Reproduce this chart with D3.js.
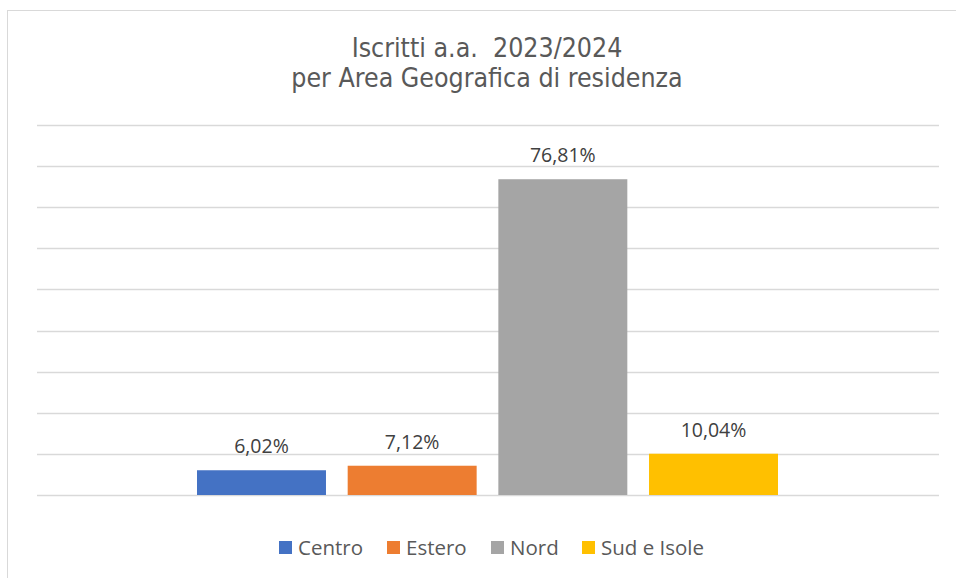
<!DOCTYPE html>
<html>
<head>
<meta charset="utf-8">
<script src="https://cdn.jsdelivr.net/npm/d3@7"></script>
<style>
  body { margin: 0; background: #fff; }
  text { font-family: "Open Sans", "Liberation Sans", sans-serif; fill: #595959; }
</style>
</head>
<body>
<div id="chart"></div>
<script>
// data
const series = ["Centro", "Estero", "Nord", "Sud e Isole"];
const values = [6.02, 7.12, 76.81, 10.04];
const colors = ["#4472c4", "#ed7d31", "#a5a5a5", "#ffc000"];
const yTicks = [0, 10, 20, 30, 40, 50, 60, 70, 80, 90];
const titleLines = ["Iscritti a.a.  2023/2024", "per Area Geografica di residenza"];

const width = 956, height = 578;
const plot = { left: 37, right: 939, top: 125, bottom: 495 };

const svg = d3.select("#chart").append("svg")
    .attr("width", width)
    .attr("height", height);

// chart frame
svg.append("rect")
    .attr("x", 7.5).attr("y", 10.5)
    .attr("width", 1000).attr("height", 1000)
    .attr("fill", "#fff")
    .attr("stroke", "#d9d9d9")
    .attr("stroke-width", 1);

const y = d3.scaleLinear()
    .domain([0, 90])
    .range([plot.bottom, plot.top]);

// single category, four series clustered in the middle
const x = d3.scaleBand()
    .domain(series)
    .range([197, 778])
    .paddingInner(0.144)
    .paddingOuter(0);

// gridlines
svg.append("g")
  .selectAll("line")
  .data(yTicks)
  .enter()
  .append("line")
    .attr("x1", plot.left)
    .attr("x2", plot.right)
    .attr("y1", d => Math.round(y(d)) + 0.5)
    .attr("y2", d => Math.round(y(d)) + 0.5)
    .attr("stroke", "#d9d9d9")
    .attr("stroke-width", 1.3);

// bars
svg.append("g")
  .selectAll("rect")
  .data(series)
  .enter()
  .append("rect")
    .attr("x", d => x(d))
    .attr("y", (d, i) => y(values[i]))
    .attr("width", x.bandwidth())
    .attr("height", (d, i) => y(0) - y(values[i]))
    .attr("fill", (d, i) => colors[i]);

// value labels
svg.append("g")
  .selectAll("text")
  .data(series)
  .enter()
  .append("text")
    .attr("x", d => x(d) + x.bandwidth() / 2)
    .attr("y", (d, i) => y(values[i]) - 17)
    .attr("text-anchor", "middle")
    .attr("font-size", 19.5)
    .style("fill", "#404040")
    .text((d, i) => values[i].toFixed(2).replace(".", ",") + "%");

// title
svg.append("g")
  .selectAll("text")
  .data(titleLines)
  .enter()
  .append("text")
    .attr("x", 487)
    .attr("y", (d, i) => 57 + i * 30)
    .attr("text-anchor", "middle")
    .attr("font-size", 26.5)
    .style("white-space", "pre")
    .style("font-family", "'DejaVu Sans Condensed', 'DejaVu Sans', sans-serif")
    .style("font-stretch", "condensed")
    .text(d => d);

// legend
const legendX = [279, 387, 491, 582];
const legend = svg.append("g")
  .selectAll("g")
  .data(series)
  .enter()
  .append("g")
    .attr("transform", (d, i) => "translate(" + legendX[i] + ",541)");

legend.append("rect")
    .attr("width", 13)
    .attr("height", 13)
    .attr("fill", (d, i) => colors[i]);

legend.append("text")
    .attr("x", 19)
    .attr("y", 14)
    .attr("font-size", 20.5)
    .text(d => d);
</script>
</body>
</html>
